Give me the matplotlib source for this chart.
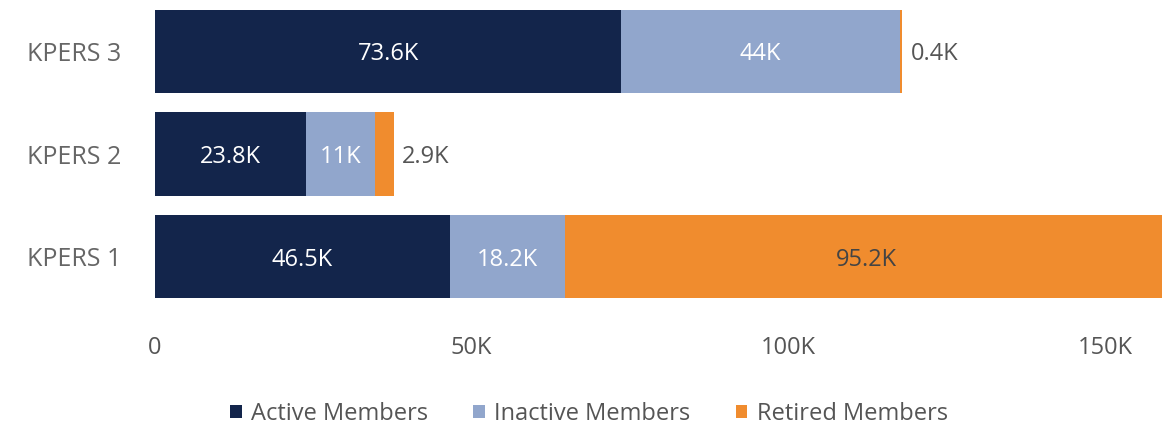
import matplotlib.pyplot as plt
import numpy as np

# data (thousands of members)
plans = ['KPERS 1', 'KPERS 2', 'KPERS 3']
active = [46.5, 23.8, 73.6]
inactive = [18.2, 11.0, 44.0]
retired = [95.2, 2.9, 0.4]
series_names = ['Active Members', 'Inactive Members', 'Retired Members']
x_ticks = [0, 50, 100, 150]
x_tick_labels = ['0', '50K', '100K', '150K']

colors = ['#13254b', '#91a6cc', '#f08c2e']
label_colors = ['white', 'white', '#444444']

plt.rcParams['font.family'] = ['Open Sans', 'DejaVu Sans']

fig = plt.figure(figsize=(11.62, 4.25), dpi=100)
ax = fig.add_axes([155 / 1162, 1 - 308 / 425, 1 - 155 / 1162, 308 / 425])

y = np.arange(len(plans))
left = np.zeros(len(plans))
for vals, name, col, lcol in zip([active, inactive, retired], series_names, colors, label_colors):
    vals = np.array(vals)
    ax.barh(y, vals, left=left, height=0.81, color=col, label=name)
    for i, v in enumerate(vals):
        txt = f'{v:g}K'
        if v > 8:
            ax.text(left[i] + v / 2, y[i], txt, ha='center', va='center_baseline',
                    color=lcol, fontsize=17)
        else:
            ax.text(left[i] + v + 1.3, y[i], txt, ha='left', va='center_baseline',
                    color='#555555', fontsize=17)
    left += vals

ax.set_xlim(0, 159)
ax.set_ylim(-0.5, 2.5)
ax.set_yticks(y)
ax.set_yticklabels(plans, fontsize=18, color='#666666')
ax.set_xticks(x_ticks)
ax.set_xticklabels(x_tick_labels, fontsize=17, color='#555555')
ax.tick_params(axis='both', length=0)
ax.tick_params(axis='x', pad=20)
ax.tick_params(axis='y', pad=24)
for s in ax.spines.values():
    s.set_visible(False)

fig.legend(loc='center', bbox_to_anchor=(589 / 1162, 1 - 414 / 425), ncol=3,
           frameon=False, fontsize=17, handlelength=0.5, handleheight=0.5,
           handletextpad=0.4, columnspacing=1.9, labelcolor='#555555')

fig.savefig('out.png', dpi=100)
